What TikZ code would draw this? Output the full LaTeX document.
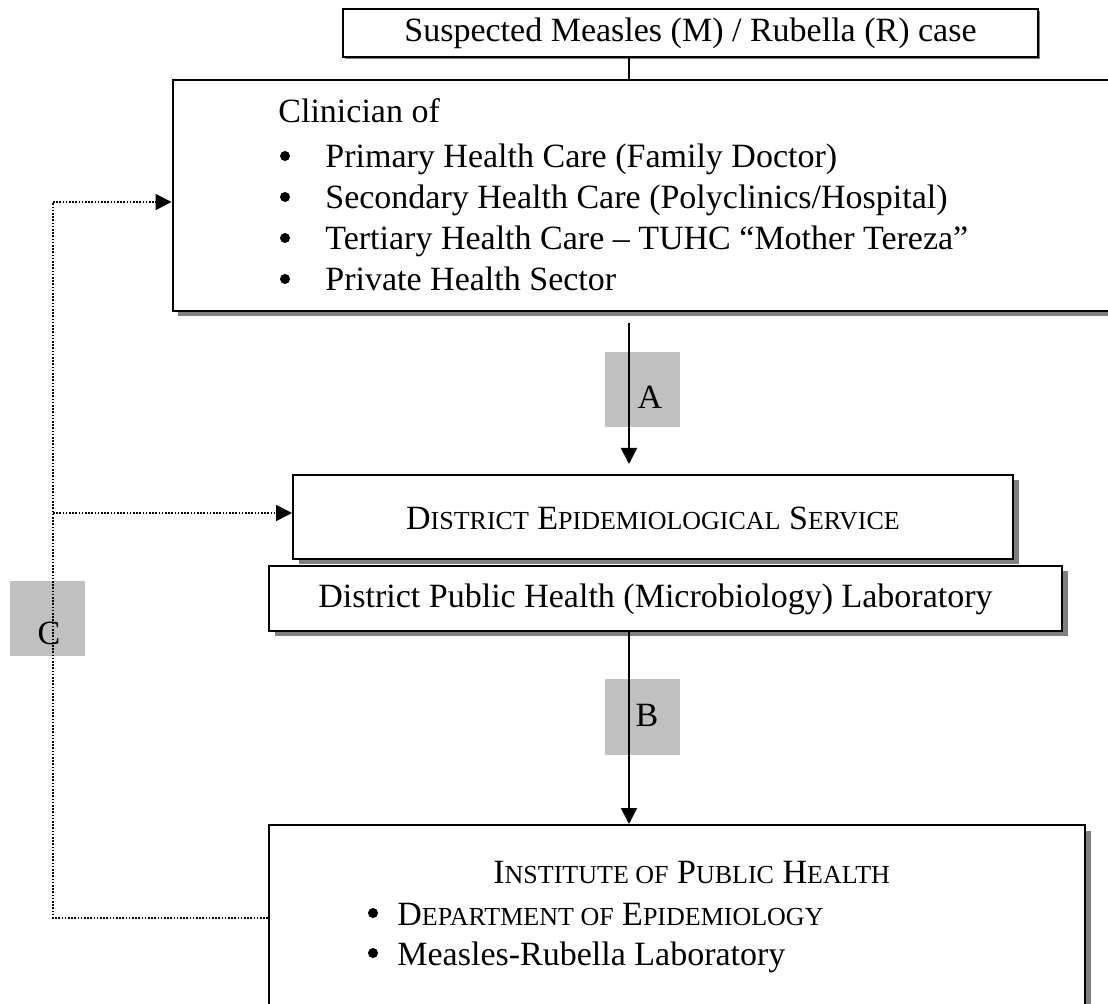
\documentclass[tikz,border=0pt]{standalone}
\usepackage{fontspec}
\setmainfont{Liberation Serif}
\usepackage{tikz}
\usetikzlibrary{arrows.meta,shadows}
\definecolor{tagfill}{HTML}{C0C0C0}
\definecolor{shadowgray}{HTML}{808080}
\tikzset{
  box/.style={draw, line width=1pt, fill=white, inner sep=0pt},
  shadowed/.style={drop shadow={shadow xshift=2.75pt, shadow yshift=-2.75pt, fill=shadowgray, opacity=1}},
  thinshadow/.style={drop shadow={shadow xshift=0.8pt, shadow yshift=-0.8pt, fill=shadowgray, opacity=1}},
  tag/.style={fill=tagfill, inner sep=0pt, minimum size=37.5pt},
  txt/.style={inner sep=0pt, font=\fontsize{17}{20}\selectfont},
  dot/.style={circle, fill, inner sep=0pt, minimum size=5pt},
  flow/.style={line width=1pt, -{Triangle[length=8pt,width=8pt]}},
  feed/.style={line width=0.8pt, dash pattern=on 0.8pt off 0.8pt, -{Triangle[length=8pt,width=8pt]}},
}
\newcommand{\sm}[1]{{\fontsize{13}{15}\selectfont #1}}

\begin{document}
\begin{tikzpicture}[x=0.5pt, y=-0.5pt]
\useasboundingbox (0, 0) rectangle (1108, 1004);
\coordinate (axis) at (629, 0);
\coordinate (cTop) at (53, 202);
\coordinate (cMid) at (53, 513);
\coordinate (cBot) at (53, 918);
%% boxes
\node[box, thinshadow, minimum width=347.5pt, minimum height=24pt] (case) at (690.5, 33) {};
\node[box, shadowed, minimum width=477.5pt, minimum height=115.5pt] (clin) at (650, 195.5) {};
\node[box, shadowed, minimum width=360pt, minimum height=42pt] (des) at (653, 517) {};
\node[box, shadowed, minimum width=396.5pt, minimum height=32.5pt] (lab) at (665.5, 598.5) {};
\node[box, shadowed, minimum width=408pt, minimum height=92.5pt] (iph) at (677, 917.5) {};
%% texts
\node[txt] (casetxt) at (case) {Suspected Measles (M) / Rubella (R) case};
\node[txt, anchor=base west] (clintxt) at (278, 123) {Clinician of};
\foreach \y/\item [count=\i] in {168/{Primary Health Care (Family Doctor)},
    209/{Secondary Health Care (Polyclinics/Hospital)},
    250/{Tertiary Health Care – TUHC “Mother Tereza”},
    291/{Private Health Sector}} {
  \node[dot] (cb\i) at (285, \y-12) {};
  \node[txt, anchor=base west] (ci\i) at (325, \y) {\item};
}
\node[txt, anchor=base] (destxt) at (653, 530) {D\sm{ISTRICT} E\sm{PIDEMIOLOGICAL} S\sm{ERVICE}};
\node[txt, anchor=base west] (labtxt) at (318, 608) {District Public Health (Microbiology) Laboratory};
\node[txt, anchor=base west] (iphtxt) at (493, 883) {I\sm{NSTITUTE OF} P\sm{UBLIC} H\sm{EALTH}};
\node[dot] (ib1) at (373, 913) {};
\node[txt, anchor=base west] (ii1) at (397, 925) {D\sm{EPARTMENT OF} E\sm{PIDEMIOLOGY}};
\node[dot] (ib2) at (373, 953) {};
\node[txt, anchor=base west] (ii2) at (397, 965) {Measles-Rubella Laboratory};
%% tags
\node[tag] (tagA) at (642.5, 389.5) {};
\node[tag] (tagB) at (642.5, 717) {};
\node[tag] (tagC) at (47.5, 618.5) {};
%% connectors
\draw[line width=1pt] (case.south -| axis) -- (clin.north -| axis);
\draw[flow, shorten <=5.5pt, shorten >=5pt] (clin.south -| axis) -- (des.north -| axis);
\draw[flow] (lab.south -| axis) -- (iph.north -| axis);
\draw[feed, -] (cBot -| iph.west) -- (cBot) -- (cTop);
\draw[feed] (cTop) -- (cTop -| clin.west);
\draw[feed] (cMid) -- (cMid -| des.west);
\node[txt] (labA) at (650, 397) {A};
\node[txt] (labB) at (647, 715) {B};
\node[txt] (labC) at (49, 633) {C};
\end{tikzpicture}
\end{document}
